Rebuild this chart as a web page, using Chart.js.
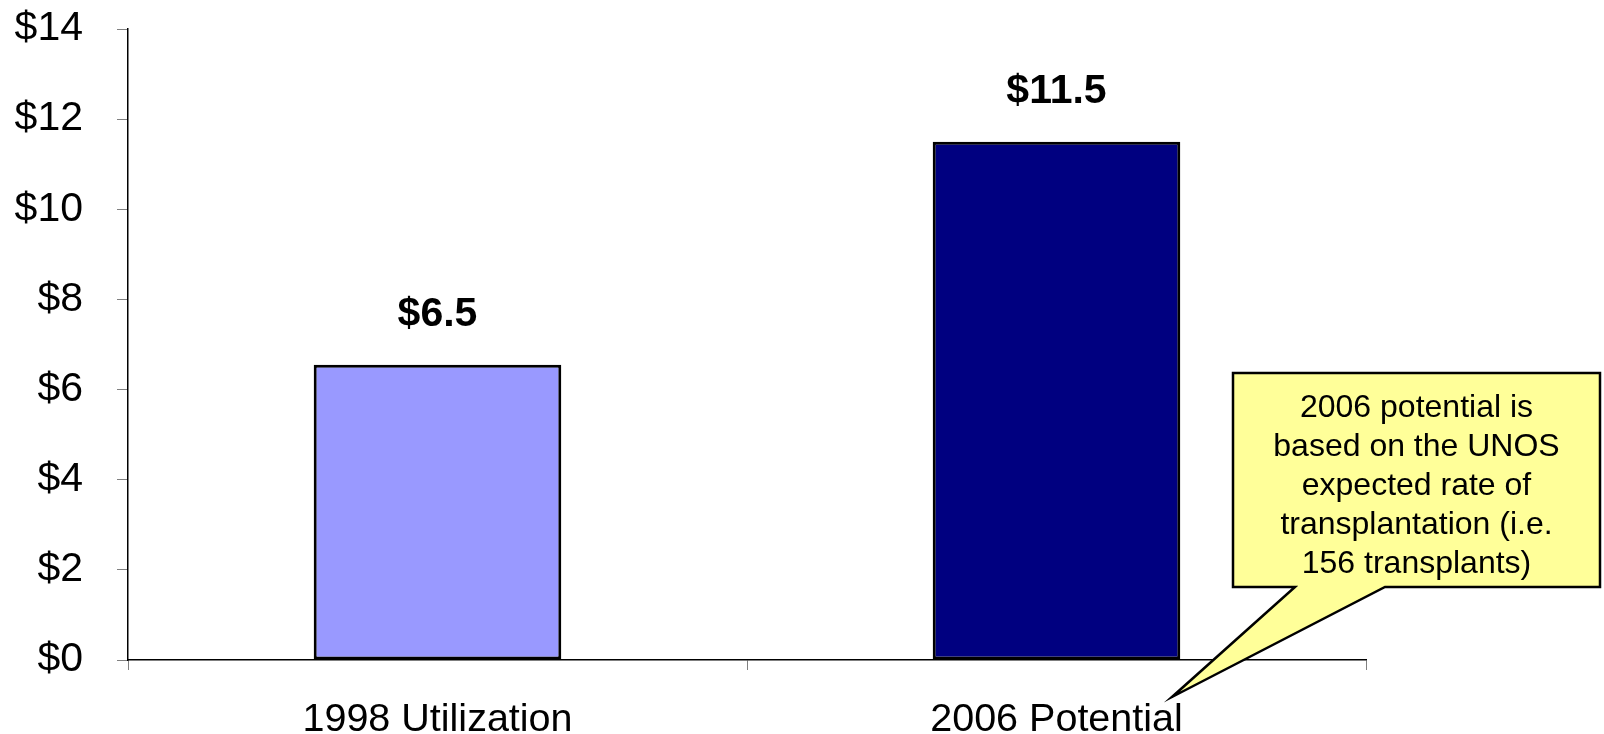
<!DOCTYPE html>
<html>
<head>
<meta charset="utf-8">
<script src="https://cdn.jsdelivr.net/npm/chart.js@4/dist/chart.umd.min.js"></script>
<style>
html,body{margin:0;padding:0;background:#fff;}
#wrap{width:1604px;height:734px;position:relative;}
</style>
</head>
<body>
<div id="wrap"><canvas id="c"></canvas></div>
<script>
const categories = ["1998 Utilization", "2006 Potential"];
const values = [6.55, 11.5];
const valueLabels = ["$6.5", "$11.5"];
const barColors = ["#9999FF", "#000080"];
const yTicks = [0, 2, 4, 6, 8, 10, 12, 14];
const calloutLines = ["2006 potential is", "based on the UNOS", "expected rate of", "transplantation (i.e.", "156 transplants)"];

const FONT = "'Liberation Sans', Arial, sans-serif";

const valueLabelPlugin = {
  id: 'valueLabels',
  afterDatasetsDraw(chart) {
    const ctx = chart.ctx;
    const meta = chart.getDatasetMeta(0);
    ctx.save();
    ctx.font = "bold 41px " + FONT;
    ctx.fillStyle = "#000";
    ctx.textAlign = "center";
    ctx.textBaseline = "alphabetic";
    meta.data.forEach((bar, i) => {
      ctx.fillText(valueLabels[i], bar.x, bar.y - 39);
    });
    ctx.restore();
  }
};

const calloutPlugin = {
  id: 'callout',
  afterDraw(chart) {
    const ctx = chart.ctx;
    const L = 1233, R = 1600, T = 373, B = 587;
    ctx.save();
    ctx.beginPath();
    ctx.moveTo(L, T);
    ctx.lineTo(R, T);
    ctx.lineTo(R, B);
    ctx.lineTo(1385, B);
    ctx.lineTo(1172, 697);
    ctx.lineTo(1295, B);
    ctx.lineTo(L, B);
    ctx.closePath();
    ctx.fillStyle = "#FFFF99";
    ctx.fill();
    ctx.lineWidth = 2.5;
    ctx.strokeStyle = "#000";
    ctx.lineJoin = "miter";
    ctx.stroke();
    ctx.font = "32px " + FONT;
    ctx.fillStyle = "#000";
    ctx.textAlign = "center";
    ctx.textBaseline = "middle";
    calloutLines.forEach((t, i) => {
      ctx.fillText(t, (L + R) / 2, 408 + i * 39);
    });
    ctx.restore();
  }
};

new Chart(document.getElementById('c'), {
  type: 'bar',
  data: {
    labels: categories,
    datasets: [{
      data: values,
      backgroundColor: barColors,
      borderColor: "#000",
      borderWidth: 3,
      borderSkipped: false,
      barPercentage: 0.4,
      categoryPercentage: 1.0
    }]
  },
  options: {
    responsive: true,
    maintainAspectRatio: false,
    animation: false,
    layout: { padding: { top: 29, right: 238, bottom: 0, left: 0 } },
    plugins: { legend: { display: false }, tooltip: { enabled: false } },
    scales: {
      x: {
        grid: { display: true, drawOnChartArea: false, drawTicks: true, tickLength: 10, color: "#808080", offset: true },
        border: { display: true, color: "#000", width: 1.5 },
        ticks: { color: "#000", font: { family: FONT, size: 39.5 }, padding: 26, maxRotation: 0 },
        afterFit(s) { s.height = 74; s.paddingLeft = 0; s.paddingRight = 0; }
      },
      y: {
        min: 0, max: 14,
        afterBuildTicks(s) { s.ticks = yTicks.map(v => ({ value: v })); },
        grid: { display: true, drawOnChartArea: false, drawTicks: true, tickLength: 11, color: "#808080" },
        border: { display: true, color: "#000", width: 1.5 },
        ticks: { color: "#000", font: { family: FONT, size: 41 }, padding: 34, callback: v => "$" + v },
        afterFit(s) { s.width = 128; s.paddingTop = 0; s.paddingBottom = 0; }
      }
    }
  },
  plugins: [valueLabelPlugin, calloutPlugin]
});
</script>
</body>
</html>
